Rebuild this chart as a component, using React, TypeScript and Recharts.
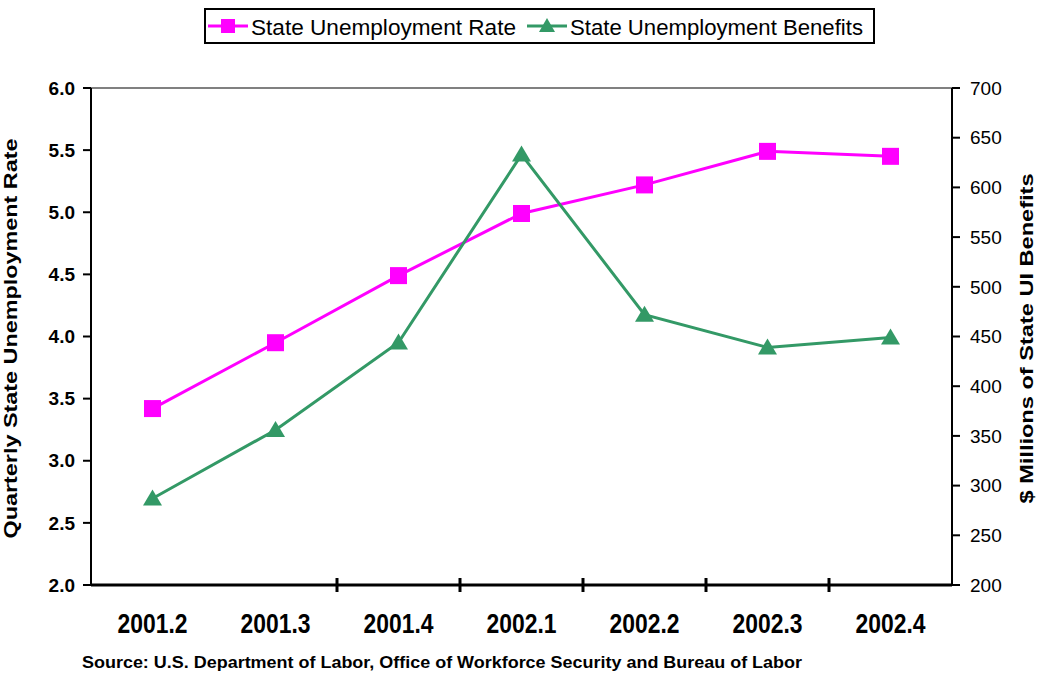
import { Label, Legend, Line, LineChart, ReferenceLine, XAxis, YAxis } from "recharts";

// Quarterly state unemployment rate vs. state UI benefits paid, 2001.2 - 2002.4
const QUARTERS = ["2001.2", "2001.3", "2001.4", "2002.1", "2002.2", "2002.3", "2002.4"];
const RATE = [3.42, 3.95, 4.49, 4.99, 5.22, 5.49, 5.45];
const BENEFITS = [287, 356, 444, 633, 472, 439, 449];

const RATE_TICKS = [2, 2.5, 3, 3.5, 4, 4.5, 5, 5.5, 6];
const BENEFIT_TICKS = [200, 250, 300, 350, 400, 450, 500, 550, 600, 650, 700];

const RATE_NAME = "State Unemployment Rate";
const BENEFIT_NAME = "State Unemployment Benefits";
const LEFT_TITLE = "Quarterly State Unemployment Rate";
const RIGHT_TITLE = "$ Millions of State UI Benefits";
const SOURCE = "Source: U.S. Department of Labor, Office of Workforce Security and Bureau of Labor";

const PINK = "#ff00ff";
const GREEN = "#339966";
const FONT = "'Liberation Sans', Arial, sans-serif";

const data = QUARTERS.map((q, i) => ({ q, rate: RATE[i], benefits: BENEFITS[i] }));

function SquareDot(props: any) {
  const { cx, cy, index } = props;
  if (cx == null || cy == null) return null;
  return <rect key={`sq-${index}`} x={cx - 8.5} y={cy - 8.5} width={17} height={17} fill={PINK} />;
}

function TriangleDot(props: any) {
  const { cx, cy, index } = props;
  if (cx == null || cy == null) return null;
  return (
    <polygon
      key={`tri-${index}`}
      points={`${cx},${cy - 9} ${cx + 9.5},${cy + 7} ${cx - 9.5},${cy + 7}`}
      fill={GREEN}
    />
  );
}

// Excel-style category axis: label centred in the band, tick marks on the band boundaries
function QuarterTick(props: any) {
  const { x, y, payload, index, width, visibleTicksCount } = props;
  const half = payload?.offset ?? width / (visibleTicksCount || 7) / 2;
  const showTick = index >= 1 && index < QUARTERS.length - 1;
  return (
    <g>
      {showTick && (
        <line x1={x + half} x2={x + half} y1={y - 7} y2={y + 7} stroke="#000" strokeWidth={3} />
      )}
      <text
        x={x}
        y={y + 48}
        textAnchor="middle"
        fontFamily={FONT}
        fontWeight="bold"
        fontSize={27}
        textLength={70}
        lengthAdjust="spacingAndGlyphs"
        fill="#000"
      >
        {payload.value}
      </text>
    </g>
  );
}

const axisTitle = (side: "left" | "right", text: string, length: number) => (props: any) => {
  const vb = props.viewBox;
  const x = side === "left" ? vb.x + 10 : vb.x + vb.width - 12.5;
  const y = vb.y + vb.height / 2 + 2;
  return (
    <text
      x={x}
      y={y}
      transform={`rotate(-90 ${x} ${y})`}
      textAnchor="middle"
      dominantBaseline="central"
      fontFamily={FONT}
      fontWeight="bold"
      fontSize={19}
      textLength={length}
      lengthAdjust="spacingAndGlyphs"
      fill="#000"
    >
      {text}
    </text>
  );
};

const sourceNote = (props: any) => {
  const vb = props.viewBox;
  return (
    <text
      x={vb.x - 9}
      y={vb.y + vb.height - 6}
      fontFamily={FONT}
      fontWeight="bold"
      fontSize={17}
      textLength={720}
      lengthAdjust="spacingAndGlyphs"
      fill="#000"
    >
      {SOURCE}
    </text>
  );
};

function LegendBox() {
  return (
    <svg width={671} height={36} style={{ display: "block" }}>
      <rect x={1} y={1} width={669} height={34} fill="#fff" stroke="#000" strokeWidth={2} />
      <line x1={4} x2={44} y1={18} y2={18} stroke={PINK} strokeWidth={3} />
      <rect x={17} y={11} width={14} height={14} fill={PINK} />
      <text x={47} y={27} fontFamily={FONT} fontSize={22} textLength={265} lengthAdjust="spacingAndGlyphs">
        {RATE_NAME}
      </text>
      <line x1={323} x2={363} y1={18} y2={18} stroke={GREEN} strokeWidth={3} />
      <polygon points="343,10 351,24 335,24" fill={GREEN} />
      <text x={366} y={27} fontFamily={FONT} fontSize={22} textLength={293} lengthAdjust="spacingAndGlyphs">
        {BENEFIT_NAME}
      </text>
    </svg>
  );
}

export default function App() {
  return (
    <div style={{ position: "absolute", left: 0, top: 0, width: 1039, height: 674, background: "#fff" }}>
      <LineChart width={1039} height={674} data={data} margin={{ top: 88, right: 0, bottom: 0, left: 0 }}>
        <XAxis
          dataKey="q"
          scale="band"
          interval={0}
          height={89}
          tickSize={0}
          tickMargin={0}
          tickLine={false}
          axisLine={{ stroke: "#000", strokeWidth: 3 }}
          tick={<QuarterTick />}
        >
          <Label content={sourceNote} />
        </XAxis>
        <YAxis
          yAxisId="left"
          width={91}
          domain={[2, 6]}
          ticks={RATE_TICKS}
          interval={0}
          tickFormatter={(v: number) => v.toFixed(1)}
          tickSize={8}
          tickMargin={8}
          axisLine={{ stroke: "#000", strokeWidth: 2 }}
          tickLine={{ stroke: "#000", strokeWidth: 2 }}
          tick={{ fill: "#000", fontSize: 19, fontWeight: "bold", fontFamily: FONT }}
        >
          <Label content={axisTitle("left", LEFT_TITLE, 400)} />
        </YAxis>
        <YAxis
          yAxisId="right"
          orientation="right"
          width={87}
          domain={[200, 700]}
          ticks={BENEFIT_TICKS}
          interval={0}
          tickSize={8}
          tickMargin={10}
          axisLine={{ stroke: "#000", strokeWidth: 2 }}
          tickLine={{ stroke: "#000", strokeWidth: 2 }}
          tick={{ fill: "#000", fontSize: 19, fontFamily: FONT, textAnchor: "start" }}
        >
          <Label content={axisTitle("right", RIGHT_TITLE, 330)} />
        </YAxis>
        <ReferenceLine yAxisId="left" y={6} stroke="#808080" strokeWidth={2} />
        <Legend
          verticalAlign="middle"
          align="center"
          content={<LegendBox />}
          wrapperStyle={{ position: "absolute", top: 8, left: 204, width: 671, height: 36 }}
        />
        <Line
          yAxisId="left"
          type="linear"
          dataKey="rate"
          name={RATE_NAME}
          stroke={PINK}
          strokeWidth={3}
          dot={SquareDot}
          activeDot={false}
          isAnimationActive={false}
        />
        <Line
          yAxisId="right"
          type="linear"
          dataKey="benefits"
          name={BENEFIT_NAME}
          stroke={GREEN}
          strokeWidth={3}
          dot={TriangleDot}
          activeDot={false}
          isAnimationActive={false}
        />
      </LineChart>
    </div>
  );
}
